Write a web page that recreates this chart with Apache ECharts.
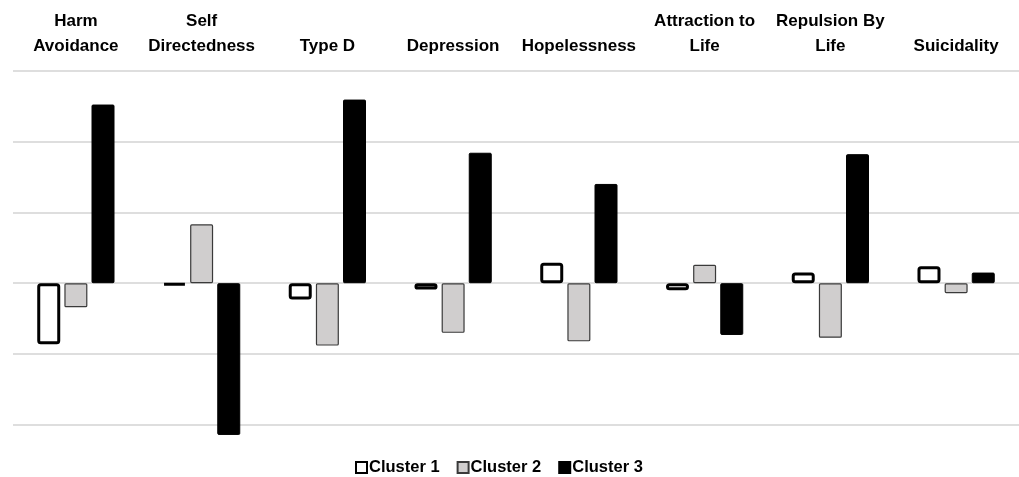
<!DOCTYPE html>
<html>
<head>
<meta charset="utf-8">
<script src="https://cdn.jsdelivr.net/npm/echarts@6/dist/echarts.min.js"></script>
<style>html,body{margin:0;padding:0;background:#fff}#c{width:1019px;height:477px}</style>
</head>
<body>
<div id="c"></div>
<script>
const categories = ['Harm\nAvoidance','Self\nDirectedness','Type D','Depression','Hopelessness','Attraction to\nLife','Repulsion By\nLife','Suicidality'];
const seriesNames = ['Cluster 1','Cluster 2','Cluster 3'];
const cluster1 = [-0.86, -0.03, -0.23, -0.09, 0.29, -0.10, 0.15, 0.24];
const cluster2 = [-0.34, 0.83, -0.88, -0.70, -0.82, 0.26, -0.77, -0.14];
const cluster3 = [2.52, -2.14, 2.59, 1.84, 1.40, -0.73, 1.82, 0.15];
const yTicks = [-2, -1, 0, 1, 2, 3];

const font = '"Liberation Sans", Arial, sans-serif';
const chart = echarts.init(document.getElementById('c'));
chart.setOption({
  animation: false,
  grid: { left: 13, right: 0, top: 70.5, bottom: 52, containLabel: false },
  legend: {
    data: seriesNames,
    icon: 'rect',
    left: 350, top: 454,
    itemWidth: 11, itemHeight: 11, itemGap: 17,
    textStyle: { fontFamily: font, fontWeight: 'bold', fontSize: 16.5, color: '#000', padding: [0,0,0,-3] }
  },
  xAxis: {
    type: 'category', position: 'top', data: categories,
    axisLine: { show: false }, axisTick: { show: false },
    axisLabel: { interval: 0, margin: 12, fontFamily: font, fontWeight: 'bold', fontSize: 17, lineHeight: 25, color: '#000' }
  },
  yAxis: {
    type: 'value', min: yTicks[0], max: yTicks[yTicks.length-1], interval: 1,
    axisLabel: { show: false }, axisLine: { show: false }, axisTick: { show: false },
    splitLine: { lineStyle: { color: '#dedede', width: 2 } }
  },
  series: [
    { name: seriesNames[0], type: 'bar', data: cluster1, barWidth: 23, barGap: '18%', clip: false,
      itemStyle: { color: '#fff', borderColor: '#000', borderWidth: 3, borderRadius: 2 } },
    { name: seriesNames[1], type: 'bar', data: cluster2, barWidth: 23, clip: false,
      itemStyle: { color: '#d0cece', borderColor: '#3a3a3a', borderWidth: 1.2, borderRadius: 1 } },
    { name: seriesNames[2], type: 'bar', data: cluster3, barWidth: 23, clip: false,
      itemStyle: { color: '#000', borderColor: '#000', borderWidth: 1, borderRadius: 1 } }
  ]
});
</script>
</body>
</html>
